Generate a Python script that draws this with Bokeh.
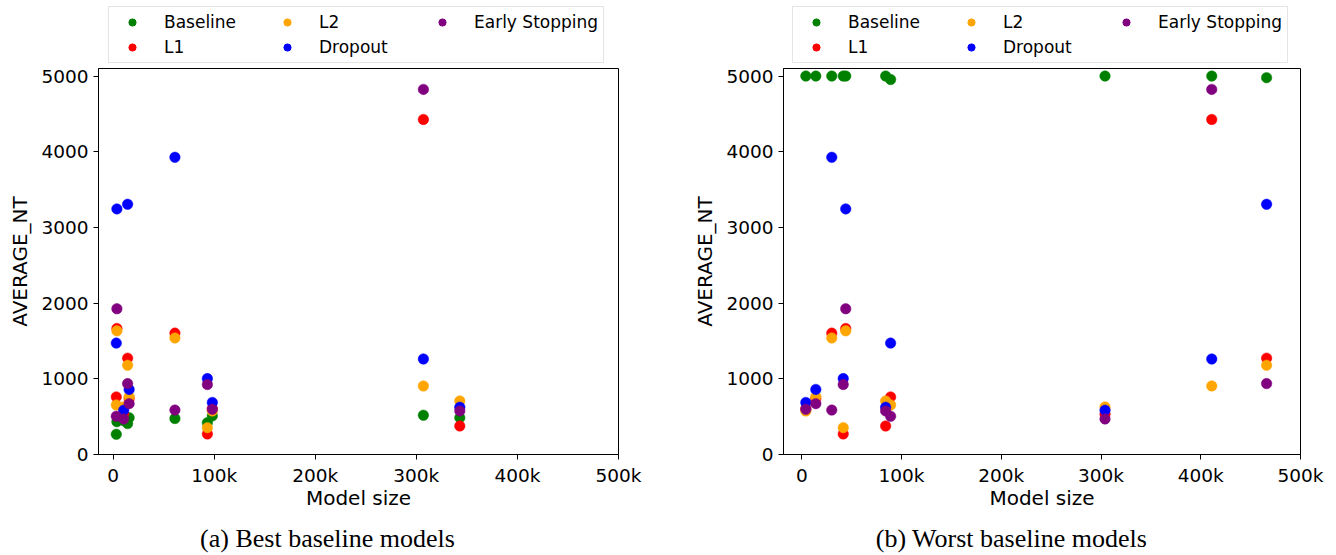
from bokeh.plotting import figure
from bokeh.layouts import row, column
from bokeh.models import (ColumnDataSource, Legend, LegendItem, FixedTicker,
                          Range1d, Label)
from bokeh.embed import file_html
from bokeh.resources import INLINE

# ---------------- data ----------------
series_names = ["Baseline", "L1", "L2", "Dropout", "Early Stopping"]
series_colors = ["green", "red", "orange", "blue", "purple"]

# regularised variants, one value per model (same models in both panels)
l1_nt = [1665, 761, 532, 1273, 740, 1604, 272, 605, 4427, 377]
l2_nt = [1634, 655, 629, 1180, 763, 1540, 355, 575, 906, 708]
dropout_nt = [3245, 1472, 585, 3306, 860, 3927, 1003, 688, 1262, 625]
early_stop_nt = [1926, 505, 470, 937, 672, 587, 925, 598, 4824, 576]

# (a) best baseline models
best_size = [3800, 3200, 10500, 14400, 15900, 61200, 93300, 98200, 307000, 343000]
best_baseline_nt = [434, 267, 450, 408, 487, 476, 421, 510, 519, 487]

# (b) worst baseline models
worst_size = [44000, 89000, 304000, 466000, 14000, 30000, 41500, 4000, 411000, 84000]
worst_baseline_nt = [5000, 4955, 5000, 4979, 5000, 5000, 5000, 5000, 5000, 5000]

x_tick_values = [0, 100000, 200000, 300000, 400000, 500000]
x_tick_labels = ["0", "100k", "200k", "300k", "400k", "500k"]
y_tick_values = [0, 1000, 2000, 3000, 4000, 5000]

captions = ["(a) Best baseline models", "(b) Worst baseline models"]

SANS = "DejaVu Sans"
SERIF = "Liberation Serif"
W = 668
COLS = ["baseline", "l1", "l2", "dropout", "es"]


def blank_fig(h):
    f = figure(width=W, height=h, x_range=Range1d(0, 1), y_range=Range1d(0, 1),
               output_backend="svg", toolbar_location=None,
               x_axis_location=None, y_axis_location=None,
               min_border_left=0, min_border_right=0,
               min_border_top=0, min_border_bottom=0)
    f.grid.visible = False
    f.outline_line_color = None
    f.background_fill_color = "white"
    f.border_fill_color = "white"
    return f


def make_panel(sizes, baseline, x_start, b_left, b_right, caption, cap_x, leg_x):
    src = ColumnDataSource(dict(size=sizes, baseline=baseline, l1=l1_nt,
                                l2=l2_nt, dropout=dropout_nt, es=early_stop_nt))

    # legend strip above the axes (its glyphs fall outside this strip's range)
    lf = blank_fig(64)
    leg_items = []
    for name, col, colr in zip(series_names, COLS, series_colors):
        r = lf.scatter("size", col, source=src, size=10, marker="circle",
                       fill_color=colr, line_color=colr)
        leg_items.append(LegendItem(label=name, renderers=[r], index=0))
    legend = Legend(items=leg_items, location=(leg_x, 1), orientation="vertical",
                    nrows=2, margin=0, padding=5, spacing=5,
                    glyph_width=36, glyph_height=18, label_height=18,
                    label_width=100, label_standoff=14,
                    label_text_font=SANS, label_text_font_size="17px",
                    label_text_color="black",
                    border_line_color="#cccccc", border_line_width=1,
                    background_fill_color="white", background_fill_alpha=1.0)
    lf.add_layout(legend, "center")

    # main scatter plot
    p = figure(width=W, height=454,
               x_range=Range1d(x_start, 500000), y_range=Range1d(0, 5100),
               output_backend="svg", toolbar_location=None,
               min_border_left=b_left, min_border_right=b_right,
               min_border_top=4, min_border_bottom=64)
    p.grid.visible = False
    p.outline_line_color = "black"
    p.outline_line_alpha = 1.0
    p.outline_line_width = 1
    p.background_fill_color = "white"
    p.border_fill_color = "white"

    for col, colr in zip(COLS, series_colors):
        p.scatter("size", col, source=src, size=10.5, marker="circle",
                  fill_color=colr, line_color=colr, line_width=0.5)

    for ax in (p.xaxis, p.yaxis):
        ax.axis_line_color = "black"
        ax.major_tick_line_color = "black"
        ax.major_tick_in = 0
        ax.major_tick_out = 5
        ax.minor_tick_line_color = None
        ax.major_label_text_font = SANS
        ax.major_label_text_font_size = "18.5px"
        ax.major_label_text_color = "black"
        ax.axis_label_text_font = SANS
        ax.axis_label_text_font_size = "20px"
        ax.axis_label_text_font_style = "normal"
        ax.axis_label_text_color = "black"

    p.xaxis.ticker = FixedTicker(ticks=x_tick_values)
    p.xaxis.major_label_overrides = dict(zip(x_tick_values, x_tick_labels))
    p.xaxis.axis_label = "Model size"
    p.xaxis.axis_label_standoff = -3
    p.yaxis.ticker = FixedTicker(ticks=y_tick_values)
    p.yaxis.axis_label = "AVERAGE_NT"
    p.yaxis.axis_label_standoff = 6

    # caption strip below the axes
    cf = blank_fig(37)
    cf.add_layout(Label(x=cap_x, y=17, x_units="screen", y_units="screen",
                        text=caption, text_align="center", text_baseline="middle",
                        text_font=SERIF, text_font_size="26px",
                        text_color="black"))
    return column(lf, p, cf, spacing=0)


c1 = make_panel(best_size, best_baseline_nt, -14400, 98, 50,
                captions[0], 229, 10)
c2 = make_panel(worst_size, worst_baseline_nt, -18400, 115, 36,
                captions[1], 228, 9)

layout = row(c1, c2, spacing=0)
open("out.html", "w").write(file_html(layout, INLINE))
